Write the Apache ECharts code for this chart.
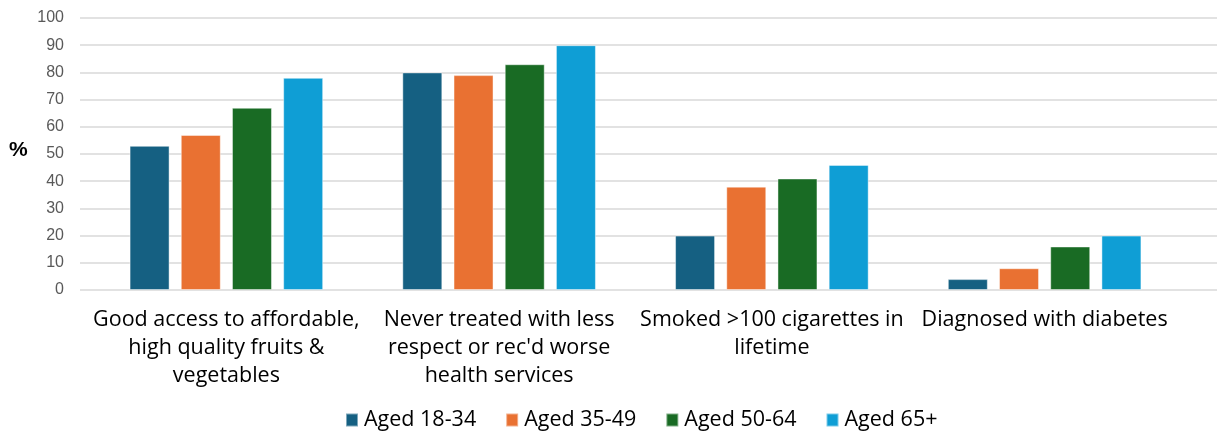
<!DOCTYPE html>
<html>
<head>
<meta charset="utf-8">
<script src="https://cdn.jsdelivr.net/npm/echarts@6/dist/echarts.min.js"></script>
<style>
  html, body { margin: 0; padding: 0; background: #fff; }
  #chart { width: 1217px; height: 431px; }
</style>
</head>
<body>
<div id="chart"></div>
<script>
// Survey measures by age group (%)
const categories = [
  'Good access to affordable,\nhigh quality fruits &\nvegetables',
  'Never treated with less\nrespect or rec\'d worse\nhealth services',
  'Smoked >100 cigarettes in\nlifetime',
  'Diagnosed with diabetes'
];
const seriesNames = ['Aged 18-34', 'Aged 35-49', 'Aged 50-64', 'Aged 65+'];
const aged18to34 = [53, 80, 20, 4];
const aged35to49 = [57, 79, 38, 8];
const aged50to64 = [67, 83, 41, 16];
const aged65plus = [78, 90, 46, 20];
const yTicks = [0, 10, 20, 30, 40, 50, 60, 70, 80, 90, 100];

const colors = ['#156082', '#E97132', '#196B24', '#0F9ED5'];
const values = [aged18to34, aged35to49, aged50to64, aged65plus];
const textFont = '"Open Sans", "Liberation Sans", sans-serif';

const chart = echarts.init(document.getElementById('chart'));
chart.setOption({
  animation: false,
  color: colors,
  grid: [
    // gridline frame
    { left: 80, right: 0, top: 18, bottom: 141 },
    // bars
    { left: 90, right: 36, top: 18, bottom: 141 }
  ],
  legend: {
    data: seriesNames,
    bottom: -5,
    left: 340,
    itemWidth: 12,
    itemHeight: 13,
    itemGap: 29,
    icon: 'rect',
    textStyle: { fontFamily: textFont, fontSize: 21.5, color: '#000', padding: [0, 0, 0, 1] }
  },
  graphic: [{
    type: 'text',
    left: 9,
    top: 140,
    style: { text: '%', font: 'bold 21px "Liberation Sans", sans-serif', fill: '#000' }
  }],
  xAxis: [
    { type: 'category', gridIndex: 0, data: categories, show: false },
    {
      type: 'category',
      gridIndex: 1,
      data: categories,
      axisLine: { show: false },
      axisTick: { show: false },
      axisLabel: {
        interval: 0,
        margin: 16,
        fontFamily: textFont,
        fontSize: 21.5,
        lineHeight: 28,
        color: '#000'
      }
    }
  ],
  yAxis: [
    {
      type: 'value',
      gridIndex: 0,
      min: 0,
      max: 100,
      interval: 10,
      axisLine: { show: false },
      axisTick: { show: false },
      axisLabel: {
        margin: 16,
        fontFamily: '"Liberation Sans", sans-serif',
        fontSize: 16,
        color: '#595959',
        formatter: v => (yTicks.includes(v) ? String(v) : '')
      },
      splitLine: { lineStyle: { color: '#D9D9D9', width: 1.5 } }
    },
    {
      type: 'value',
      gridIndex: 1,
      min: 0,
      max: 100,
      interval: 10,
      show: false,
      splitLine: { show: false }
    }
  ],
  series: seriesNames.map((name, i) => ({
    name: name,
    type: 'bar',
    xAxisIndex: 1,
    yAxisIndex: 1,
    data: values[i],
    barWidth: 40,
    barGap: '28%',
    itemStyle: {
      color: colors[i],
      borderColor: 'rgba(255,255,255,0.45)',
      borderWidth: 1
    }
  }))
});
</script>
</body>
</html>
